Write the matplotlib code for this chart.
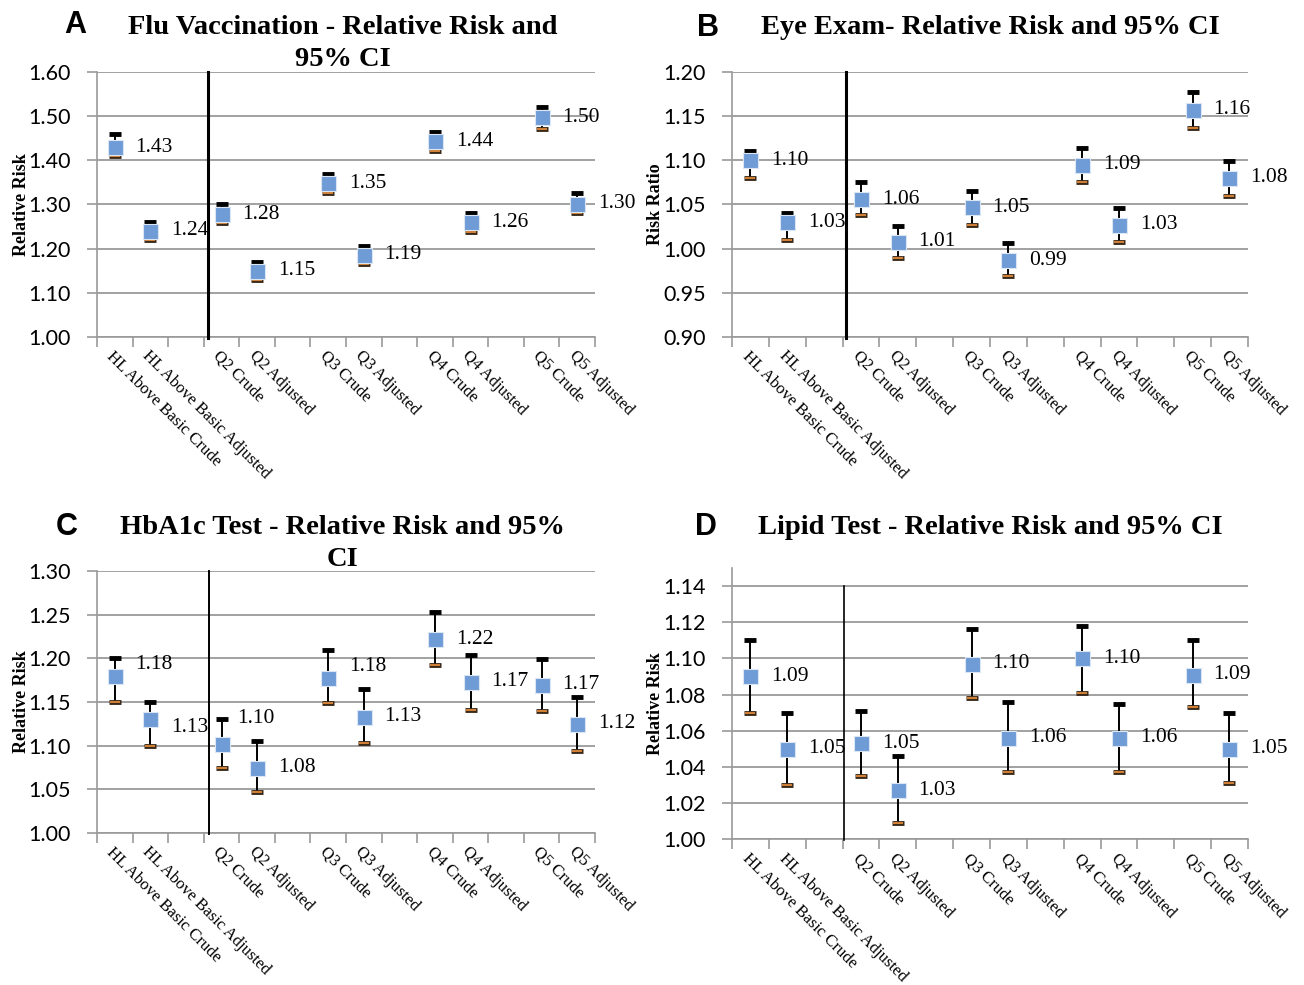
import numpy as np
import matplotlib
matplotlib.use("Agg")
import matplotlib.pyplot as plt

# categories (empty slots are the gaps between groups)
categories = ["HL Above Basic Crude", "HL Above Basic Adjusted", "",
              "Q2 Crude", "Q2 Adjusted", "",
              "Q3 Crude", "Q3 Adjusted", "",
              "Q4 Crude", "Q4 Adjusted", "",
              "Q5 Crude", "Q5 Adjusted"]

# Flu vaccination
flu_rr = [1.430, 1.240, 1.278, 1.150, 1.348, 1.186, 1.443, 1.260, 1.497, 1.302]
flu_lo = [1.410, 1.220, 1.257, 1.130, 1.325, 1.165, 1.420, 1.237, 1.472, 1.280]
flu_hi = [1.460, 1.260, 1.300, 1.170, 1.370, 1.205, 1.465, 1.280, 1.520, 1.325]
flu_lbl = ["1.43", "1.24", "1.28", "1.15", "1.35", "1.19", "1.44", "1.26", "1.50", "1.30"]

# Eye exam
eye_rr = [1.100, 1.030, 1.056, 1.008, 1.047, 0.987, 1.095, 1.027, 1.157, 1.080]
eye_lo = [1.080, 1.010, 1.038, 0.989, 1.027, 0.969, 1.075, 1.007, 1.137, 1.060]
eye_hi = [1.110, 1.040, 1.075, 1.026, 1.065, 1.006, 1.114, 1.046, 1.177, 1.099]
eye_lbl = ["1.10", "1.03", "1.06", "1.01", "1.05", "0.99", "1.09", "1.03", "1.16", "1.08"]

# HbA1c test
hba_rr = [1.180, 1.130, 1.102, 1.075, 1.178, 1.133, 1.222, 1.173, 1.170, 1.125]
hba_lo = [1.150, 1.100, 1.074, 1.047, 1.149, 1.103, 1.192, 1.141, 1.140, 1.094]
hba_hi = [1.200, 1.150, 1.130, 1.105, 1.209, 1.165, 1.253, 1.204, 1.199, 1.156]
hba_lbl = ["1.18", "1.13", "1.10", "1.08", "1.18", "1.13", "1.22", "1.17", "1.17", "1.12"]

# Lipid test
lip_rr = [1.090, 1.050, 1.053, 1.027, 1.097, 1.056, 1.100, 1.056, 1.091, 1.050]
lip_lo = [1.070, 1.030, 1.035, 1.009, 1.078, 1.037, 1.081, 1.037, 1.073, 1.031]
lip_hi = [1.110, 1.070, 1.071, 1.046, 1.116, 1.076, 1.118, 1.075, 1.110, 1.070]
lip_lbl = ["1.09", "1.05", "1.05", "1.03", "1.10", "1.06", "1.10", "1.06", "1.09", "1.05"]

SERIF = "Liberation Serif"
SANS = "Lato"
GRID = "#9a9a9a"
W, H = 1304, 985

fig = plt.figure(figsize=(13.04, 9.85), dpi=100)


def panel(rect, letter, letter_xy, title, title_xy, ylabel, rr, lo, hi, lbl,
          ylim, yticks, sep_x, sep_top, sep_lw, lbl_dy=None, lbl_dx=None):
    ax = fig.add_axes(rect)
    xpos = [i for i, c in enumerate(categories) if c]
    rr = np.array(rr)
    lo = np.array(lo)
    hi = np.array(hi)

    ax.set_xlim(-0.5, len(categories) - 0.5)
    ax.set_ylim(*ylim)
    ax.set_yticks(yticks)
    ax.set_yticklabels(["%.2f" % t for t in yticks], family=SANS, fontsize=15.5)
    ax.yaxis.grid(True, color=GRID, lw=1.3)
    ax.set_axisbelow(True)
    for s in ["top", "right"]:
        ax.spines[s].set_visible(False)
    for s in ["left", "bottom"]:
        ax.spines[s].set_color(GRID)
        ax.spines[s].set_linewidth(1.2)
    ax.tick_params(axis="y", length=7, color=GRID, width=1.2, pad=12)

    # category labels at centers, tick marks at boundaries
    ax.set_xticks(range(len(categories)))
    ax.set_xticklabels(categories, rotation=-45, ha="left", va="top",
                       rotation_mode="anchor", family=SERIF, fontsize=12)
    ax.tick_params(axis="x", which="major", length=0, pad=8)
    ax.set_xticks(np.arange(-0.5, len(categories)), minor=True)
    ax.tick_params(axis="x", which="minor", length=7, color=GRID, width=1.2)

    # separator line
    ax.plot([sep_x, sep_x], [ylim[0] - 0.003 * (ylim[1] - ylim[0]), sep_top],
            color="black", lw=sep_lw, clip_on=False, zorder=3)

    # error bars
    ax.vlines(xpos, lo, hi, color="black", lw=1.4, zorder=4)
    ax.plot(xpos, hi, ls="none", marker="_", ms=9, mew=3.5, color="black", zorder=4)
    ax.plot(xpos, lo, ls="none", marker="_", ms=9, mew=3.5, color="#3a2a1a", zorder=4)
    ax.plot(xpos, lo, ls="none", marker="_", ms=7, mew=1.3, color="#e08a3a", zorder=5)
    ax.plot(xpos, rr, ls="none", marker="s", ms=10.8, color="#6f9bd6",
            mec="#dbe6f5", mew=0.8, zorder=6)

    if lbl_dy is None:
        lbl_dy = [0] * len(xpos)
    if lbl_dx is None:
        lbl_dx = [0] * len(xpos)
    for x, y, s, dy, dx in zip(xpos, rr, lbl, lbl_dy, lbl_dx):
        ax.annotate(s, (x, y), xytext=(15 + dx, dy), textcoords="offset points",
                    ha="left", va="center", family=SERIF, fontsize=15.5, zorder=7)

    ax.set_ylabel(ylabel, family=SERIF, fontsize=13, fontweight="bold", labelpad=-1)

    # title lines and panel letter, placed in figure pixels
    tx, ty = title_xy
    for k, line in enumerate(title.split("\n")):
        fig.text(tx / W, 1 - (ty + 32 * k) / H, line, family=SERIF, fontsize=20.5,
                 fontweight="bold", ha="center", va="center")
    fig.text(letter_xy[0] / W, 1 - letter_xy[1] / H, letter, family="Liberation Sans",
             fontsize=22, fontweight="bold", ha="center", va="center")
    return ax


axA = panel([0.0744, 0.6579, 0.3819, 0.2690], "A", (75, 25),
            "Flu Vaccination - Relative Risk and\n95% CI", (343, 28), "Relative Risk",
            flu_rr, flu_lo, flu_hi, flu_lbl, (1.0, 1.6),
            np.arange(1.0, 1.601, 0.1), 2.62, 1.6, 2.2)
axB = panel([0.5613, 0.6579, 0.3957, 0.2690], "B", (708, 28),
            "Eye Exam- Relative Risk and 95% CI", (990, 28), "Risk Ratio",
            eye_rr, eye_lo, eye_hi, eye_lbl, (0.9, 1.2),
            np.arange(0.9, 1.201, 0.05), 2.6, 1.2, 2.2)
axC = panel([0.0744, 0.1543, 0.3819, 0.2660], "C", (67, 527),
            "HbA1c Test - Relative Risk and 95%\nCI", (342, 527), "Relative Risk",
            hba_rr, hba_lo, hba_hi, hba_lbl, (1.0, 1.3),
            np.arange(1.0, 1.301, 0.05), 2.64, 1.3, 1.4,
            lbl_dy=[8, -6, 18, 0, 8, 0, 0, 0, 0, 0],
            lbl_dx=[0, 0, -4, 0, 0, 0, 0, 0, 0, 0])
axD = panel([0.5613, 0.1480, 0.3957, 0.2754], "D", (706, 527),
            "Lipid Test - Relative Risk and 95% CI", (990, 528), "Relative Risk",
            lip_rr, lip_lo, lip_hi, lip_lbl, (1.0, 1.15),
            np.arange(1.0, 1.141, 0.02), 2.53, 1.14, 1.2)

fig.savefig("out.png", dpi=100)
